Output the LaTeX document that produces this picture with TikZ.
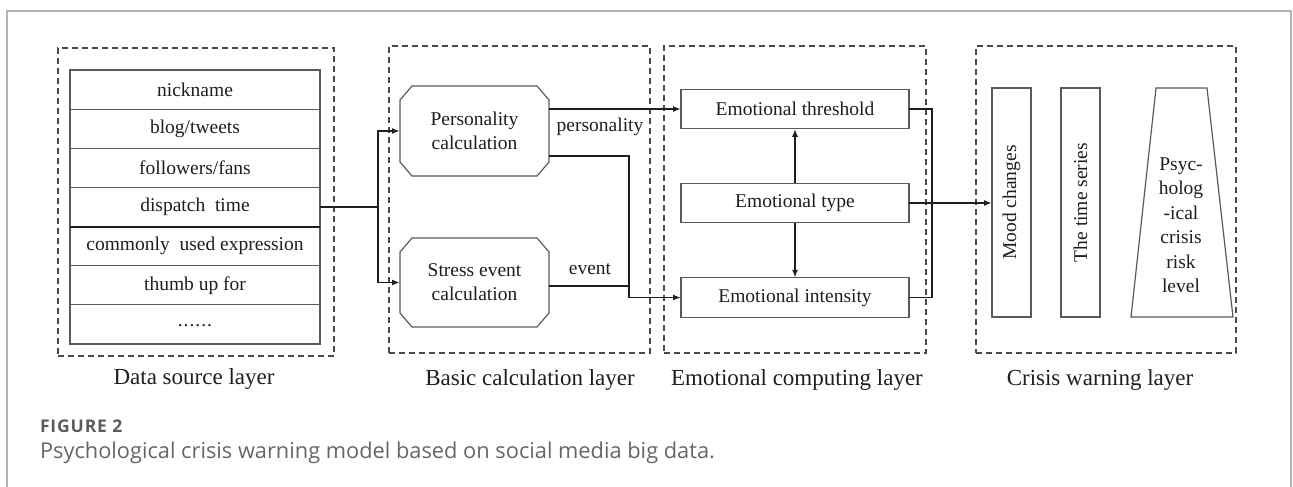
\documentclass[tikz,border=0pt]{standalone}
\usepackage{fontspec}
\setmainfont{Liberation Serif}
\newfontfamily\capfont{Open Sans}
\newfontfamily\capfontsp{Open Sans}[LetterSpace=5]
\usetikzlibrary{arrows.meta}
\definecolor{ink}{HTML}{1E1E1E}
\definecolor{boxline}{HTML}{5A5A5A}
\definecolor{dashc}{HTML}{4A4A4A}
\definecolor{framec}{HTML}{B4B4B4}
\definecolor{capc}{HTML}{5C5C5C}
\definecolor{capd}{HTML}{666666}
\tikzset{
  every node/.style={inner sep=0pt, outer sep=0pt, text=ink},
  txt/.style={font=\fontsize{19.5}{24}\selectfont, align=center},
  lbl/.style={font=\fontsize{23}{27}\selectfont},
  rowbox/.style={draw=boxline, line width=1.2pt, minimum width=250pt, minimum height=39.14pt, txt},
  ebox/.style={draw=boxline, line width=1.2pt, minimum width=228pt, minimum height=39.5pt, txt},
  vbox/.style={draw=boxline, line width=1.2pt, minimum width=39pt, minimum height=229pt},
  dashbox/.style={draw=dashc, line width=1.2pt, dash pattern=on 6pt off 4pt},
  octo/.style={draw=boxline, line width=1.2pt},
  conn/.style={draw=ink, line width=1.6pt},
  arr/.style={conn, -{Latex[length=8pt,width=6pt]}},
}
\begin{document}
\begin{tikzpicture}[x=1pt,y=-1pt]
\useasboundingbox (0,0) rectangle (1293,487);
% outer frame
\draw[framec, line width=1.2pt] (7,487) -- (7,11) -- (1291,11) -- (1291,487);

% layer dashed boxes
\node[dashbox, minimum width=276pt, minimum height=308pt] (L1) at (196,202) {};
\node[dashbox, minimum width=261pt, minimum height=307pt] (L2) at (519.5,199.5) {};
\node[dashbox, minimum width=262pt, minimum height=307pt] (L3) at (795,199.5) {};
\node[dashbox, minimum width=260pt, minimum height=307pt] (L4) at (1106,199.5) {};
\node[lbl] (L1t) at (194,379) {Data source layer};
\node[lbl] (L2t) at (530,380) {Basic calculation layer};
\node[lbl] (L3t) at (797,380) {Emotional computing layer};
\node[lbl] (L4t) at (1100,380) {Crisis warning layer};

% data source table
\node[rowbox] (r1) at (195,89.57) {nickname};
\node[rowbox] (r2) at (195,128.71) {blog/tweets};
\node[rowbox] (r3) at (195,167.85) {followers/fans};
\node[rowbox] (r4) at (195,206.99) {dispatch\ \ time};
\node[rowbox] (r5) at (195,246.13) {commonly\ \ used expression};
\node[rowbox] (r6) at (195,285.27) {thumb up for};
\node[rowbox] (r7) at (195,324.41) {\raisebox{-4pt}{.\kern1pt.\kern1pt.\kern1pt.\kern1pt.\kern1pt.}};
\draw[ink, line width=2pt] (r4.south west) -- (r4.south east);

% basic calculation
\node[txt, minimum width=149pt, minimum height=90pt] (pers) at (474.5,131) {Personality\\calculation};
\node[txt, minimum width=149pt, minimum height=89pt] (stress) at (474.5,282.5) {Stress event\\calculation};
\foreach \n in {pers,stress}{
  \draw[octo] ([xshift=12pt]\n.north west) -- ([xshift=-12pt]\n.north east) -- ([yshift=-14pt]\n.north east)
    -- ([yshift=14pt]\n.south east) -- ([xshift=-12pt]\n.south east) -- ([xshift=12pt]\n.south west)
    -- ([yshift=14pt]\n.south west) -- ([yshift=-14pt]\n.north west) -- cycle;
}
\node[txt] (plbl) at (600,127) {personality};
\node[txt] (elbl) at (590,269) {event};

% emotional computing
\node[ebox] (thr) at (795,109) {Emotional threshold};
\node[ebox] (typ) at (795,203) {Emotional type};
\node[ebox] (int) at (795,297.5) {Emotional intensity};

% crisis warning
\node[vbox] (mood) at (1011.5,202.5) {};
\node[txt, rotate=90] (moodt) at (mood.center) {Mood changes};
\node[vbox] (tser) at (1080.5,202.5) {};
\node[txt, rotate=90] (tsert) at (tser.center) {The time series};
\draw[octo] (1156,88) -- (1207,88) -- (1233,317) -- (1131,317) -- cycle;
\node[txt, font=\fontsize{19.5}{24.5}\selectfont] (risk) at (1181,225) {Psyc-\\holog\\-ical\\crisis\\risk\\level};

% connectors
\coordinate (br) at (378,206.99);
\draw[conn] (r4.east) -- (br);
\draw[arr] (br) |- (pers.west);
\draw[arr] (br) |- (stress.west);
\draw[arr] (pers.east |- thr.west) -- (thr.west);
\coordinate (pj) at (629,156);
\coordinate (ej) at (629,286);
\draw[arr] (pers.east |- pj) -- (pj) |- (int.west);
\draw[conn] (stress.east |- ej) -- (ej);
\draw[arr] (typ.north) -- (thr.south);
\draw[arr] (typ.south) -- (int.north);
\coordinate (rj1) at (932,109);
\coordinate (rj2) at (932,297.5);
\draw[conn] (thr.east) -- (rj1) -- (rj2) -- (int.east);
\draw[arr] (typ.east) -- (typ.east -| mood.west);

% caption
\node[anchor=west, font=\capfontsp\bfseries\fontsize{17.5}{20}\selectfont, text=capc] (figno) at (40,426) {FIGURE 2};
\node[anchor=west, font=\capfont\fontsize{21.8}{26}\selectfont, text=capd] (cap) at (40,453) {Psychological crisis warning model based on social media big data.};
\end{tikzpicture}
\end{document}
